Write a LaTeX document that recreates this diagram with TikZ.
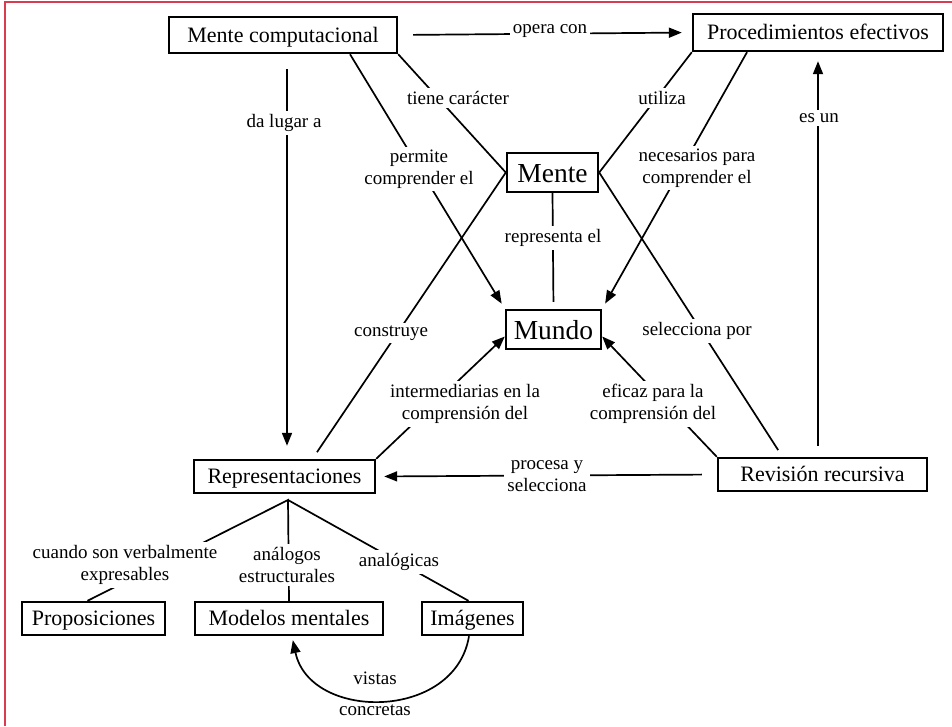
\documentclass[tikz,border=0pt]{standalone}
\usepackage{fontspec}
\setmainfont{Liberation Serif}
\usetikzlibrary{arrows.meta}
\definecolor{redline}{RGB}{215,60,80}
\begin{document}
\begin{tikzpicture}[x=1pt,y=-1pt,
  box/.style={draw, line width=2.4pt, inner sep=0pt, font=\fontsize{22}{26}\selectfont, text height=14pt, text depth=0pt, minimum height=33pt},
  bigbox/.style={draw, line width=2.4pt, inner sep=0pt, font=\fontsize{27.5}{32}\selectfont, text height=19pt, text depth=0pt, minimum height=39pt},
  lab/.style={fill=white, inner sep=3pt, align=center, font=\fontsize{19}{22}\selectfont},
  plainlab/.style={inner sep=1pt, align=center, font=\fontsize{19}{22}\selectfont},
  conn/.style={line width=1.7pt},
  arr/.style={conn, -{Triangle[length=13pt,width=10pt]}}]
\useasboundingbox (0,0) rectangle (952,726);
\fill[white] (0,0) rectangle (952,726);
\draw[line width=1.5pt, redline] (4,2) -- (952,2);
\draw[line width=2pt, redline] (5,2) -- (5,726);

% boxes
\node[box, minimum width=228pt, minimum height=36pt] (mc) at (283,35) {Mente computacional};
\node[box, minimum width=250pt, minimum height=37pt] (pe) at (818,32.5) {Procedimientos efectivos};
\node[bigbox, minimum width=91pt] (m) at (552.5,172.5) {Mente};
\node[bigbox, minimum width=95pt] (mu) at (553.5,329.5) {Mundo};
\node[box, minimum width=181pt] (rep) at (284.5,476.5) {Representaciones};
\node[box, minimum width=209pt] (rr) at (822.5,474.5) {Revisión recursiva};
\node[box, minimum width=143pt] (prop) at (93.5,618.5) {Proposiciones};
\node[box, minimum width=188pt] (mm) at (289,618.5) {Modelos mentales};
\node[box, minimum width=101pt] (im) at (472.5,618.5) {Imágenes};

% connectors
\draw[arr, shorten <=15pt, shorten >=10pt] (mc.east) -- (pe.west);
\draw[arr, shorten <=15pt, shorten >=13pt] ([xshift=4pt]mc.south) -- ([xshift=2.5pt]rep.north);
\draw[conn] (mc.south east) -- (m.west);
\draw[arr, shorten >=6pt] ([xshift=67pt]mc.south) -- (mu.north west);
\draw[conn] (m.east) -- (pe.south west);
\draw[arr, shorten >=6pt] ([xshift=-71pt]pe.south) -- (mu.north east);
\draw[conn, shorten >=7pt] (m.south) -- (mu.north);
\draw[conn, shorten >=8pt] (m.east) -- ([xshift=-40pt]rr.north);
\draw[conn, shorten <=8pt] ([xshift=28pt]rep.north) -- (m.west);
\draw[arr] (rep.north east) -- ([yshift=-7pt]mu.west);
\draw[arr] (rr.north west) -- ([yshift=-7pt]mu.east);
\draw[arr, shorten <=15pt, shorten >=8pt] (rr.west) -- (rep.east);
\draw[arr, shorten <=11pt, shorten >=9pt] (pe.south |- rr.north) -- (pe.south);
\coordinate (apex) at (288,500);
\draw[conn] ([xshift=-6pt]prop.north) -- (apex) -- (mm.north);
\draw[conn] (apex) -- ([xshift=-4pt]im.north);
\draw[arr, shorten >=4pt] ([xshift=-3.5pt]im.south) .. controls +(-14,85) and +(18,85) .. ([xshift=3pt]mm.south);

% labels
\node[lab] (l1) at (550,31) {opera con};
\node[lab] (l2) at (284,123) {da lugar a};
\node[lab] (l3) at (458,98) {tiene carácter};
\node[lab] (l4) at (419,169) {permite\\comprender el};
\node[lab] (l5) at (662,98) {utiliza};
\node[lab] (l6) at (697,168) {necesarios para\\comprender el};
\node[lab] (l7) at (819,118) {es un};
\node[lab] (l8) at (553,238) {representa el};
\node[lab] (l9) at (391,333) {construye};
\node[lab] (l10) at (697,331) {selecciona por};
\node[lab] (l11) at (465,404) {intermediarias en la\\comprensión del};
\node[lab] (l12) at (653,404) {eficaz para la\\comprensión del};
\node[lab] (l13) at (547,476) {procesa y\\selecciona};
\node[lab] (l14) at (125,565) {cuando son verbalmente\\expresables};
\node[lab] (l15) at (287,565) {análogos\\estructurales};
\node[lab] (l16) at (399,562) {analógicas};
\node[plainlab] (l17) at (375,678) {vistas};
\node[plainlab] (l18) at (375,710) {concretas};
\end{tikzpicture}
\end{document}
